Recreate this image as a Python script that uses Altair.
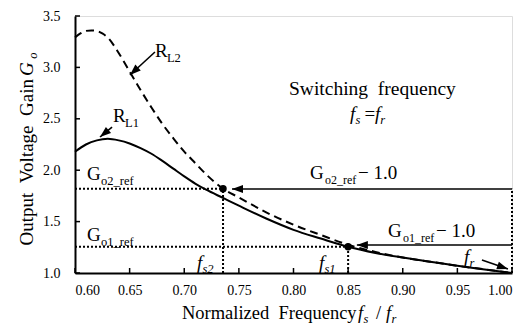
import math
import altair as alt
import pandas as pd

W, H = 437, 257
X_DOM = [0.60, 1.00]
Y_DOM = [1.0, 3.5]
FONT = "'Liberation Serif', 'Times New Roman', 'DejaVu Serif', serif"
NB = "\u00a0"

# ---- curves ----
rl2_x = [0.600, 0.605, 0.610, 0.615, 0.620, 0.625, 0.630, 0.640, 0.650, 0.660, 0.670, 0.680, 0.690,
         0.700, 0.710, 0.720, 0.7355, 0.750, 0.775, 0.800, 0.825, 0.850, 0.875, 0.900, 0.925,
         0.950, 0.975, 1.000]
rl2_y = [3.29, 3.33, 3.355, 3.36, 3.355, 3.33, 3.29, 3.14, 2.96, 2.78, 2.61, 2.45, 2.31,
         2.18, 2.07, 1.96, 1.82, 1.735, 1.59, 1.47, 1.37, 1.275, 1.205, 1.15, 1.11,
         1.07, 1.035, 1.00]
rl1_x = [0.600, 0.610, 0.620, 0.630, 0.640, 0.650, 0.660, 0.670, 0.680, 0.690, 0.700, 0.710,
         0.720, 0.7355, 0.750, 0.775, 0.800, 0.825, 0.850, 0.875, 0.900, 0.925, 0.950, 0.975, 1.000]
rl1_y = [2.18, 2.25, 2.29, 2.305, 2.29, 2.26, 2.215, 2.16, 2.09, 2.015, 1.94, 1.87,
         1.81, 1.73, 1.655, 1.53, 1.42, 1.335, 1.255, 1.195, 1.15, 1.11, 1.07, 1.035, 1.00]

# ---- reference points ----
dot_x = [0.7355, 0.850]
dot_y = [1.82, 1.255]

# dotted guide lines (x, x2, y, y2)
dot_lines = [
    (0.60, 0.7355, 1.82, 1.82),
    (0.60, 0.850, 1.255, 1.255),
    (0.7355, 0.7355, 1.0, 1.82),
    (0.850, 0.850, 1.0, 1.255),
    (1.00, 1.00, 1.0, 1.82),
]

# arrows (x_start, y_start, x_tip, y_tip)
arrows = [
    (0.6732, 3.150, 0.6503, 2.926),
    (0.6339, 2.420, 0.6229, 2.323),
    (1.000, 1.817, 0.7437, 1.817),
    (1.000, 1.272, 0.858, 1.272),
    (0.9725, 1.126, 0.9963, 1.039),
]

# upright labels (text, x, y, size)
up_labels = [
    ("R", 0.6732, 3.101, 19), ("L2", 0.6842, 3.053, 12.5),
    ("R", 0.6348, 2.469, 19), ("L1", 0.6458, 2.420, 12.5),
    ("Switching" + NB + NB + "frequency", 0.7959, 2.732, 19.5),
    ("=", 0.8650, 2.488, 19),
    ("G", 0.6110, 1.905, 19), ("o2_ref", 0.6238, 1.856, 12.5),
    ("G", 0.6110, 1.311, 19), ("o1_ref", 0.6238, 1.263, 12.5),
    ("G", 0.8151, 1.914, 19), ("o2_ref", 0.8288, 1.866, 12), ("−" + NB + "1.0", 0.8590, 1.914, 19),
    ("G", 0.8865, 1.350, 19), ("o1_ref", 0.9002, 1.302, 12), ("−" + NB + "1.0", 0.9304, 1.350, 19),
    ("Normalized" + NB + NB + "Frequency", 0.6979, 0.5525, 18.5),
    ("/", 0.8755, 0.5525, 18.5),
]
# italic labels
it_labels = [
    ("f", 0.8517, 2.488, 19), ("s", 0.8567, 2.449, 12.5),
    ("f", 0.8745, 2.488, 19), ("r", 0.8795, 2.449, 12.5),
    ("f", 0.7117, 1.039, 19), ("s2", 0.7167, 1.000, 12.5),
    ("f", 0.8233, 1.039, 19), ("s1", 0.8283, 1.000, 12.5),
    ("f", 0.9561, 1.097, 19), ("r", 0.9611, 1.058, 12.5),
    ("f", 0.8590, 0.5525, 18.5), ("s", 0.8640, 0.5136, 12.5),
    ("f", 0.8847, 0.5525, 18.5), ("r", 0.8897, 0.5136, 12.5),
]
# y axis title pieces (rotated)
ytitle_up = [("Output" + NB + NB + "Voltage" + NB + NB + "Gain", 0.5616, 2.887, 19)]
ytitle_it = [("G", 0.5616, 2.916, 19), ("o", 0.5652, 3.085, 12.5)]

x_ticks = [0.60, 0.65, 0.70, 0.75, 0.80, 0.85, 0.90, 0.95, 1.00]
y_ticks = [1.0, 1.5, 2.0, 2.5, 3.0, 3.5]

xs = alt.Scale(domain=X_DOM, nice=False, zero=False)
ys = alt.Scale(domain=Y_DOM, nice=False, zero=False)
px_per_x = W / (X_DOM[1] - X_DOM[0])
px_per_y = H / (Y_DOM[1] - Y_DOM[0])

X = alt.X("x:Q", scale=xs, axis=alt.Axis(values=x_ticks, format=".2f", title=None, ticks=False,
          grid=False, domainColor="black", domainWidth=2, labelFont=FONT, labelFontSize=14,
          labelColor="black", labelPadding=10))
Y = alt.Y("y:Q", scale=ys, axis=alt.Axis(values=y_ticks, format=".1f", title=None, ticks=False,
          grid=False, domainColor="black", domainWidth=2, labelFont=FONT, labelFontSize=14,
          labelColor="black", labelPadding=15))

df2 = pd.DataFrame({"x": rl2_x, "y": rl2_y})
df1 = pd.DataFrame({"x": rl1_x, "y": rl1_y})
base_axes = alt.Chart(df1).mark_line(stroke="black", strokeWidth=2, interpolate="monotone").encode(x=X, y=Y)
line2 = alt.Chart(df2).mark_line(stroke="black", strokeWidth=2, strokeDash=[8, 5],
                                 interpolate="monotone").encode(x="x:Q", y="y:Q")

dl = pd.DataFrame(dot_lines, columns=["x", "x2", "y", "y2"])
dotted = alt.Chart(dl).mark_rule(stroke="black", strokeWidth=2, strokeDash=[2, 2]).encode(
    x="x:Q", x2="x2:Q", y="y:Q", y2="y2:Q")

ar = pd.DataFrame(arrows, columns=["x", "y", "x2", "y2"])
ar["angle"] = [
    math.degrees(math.atan2((r.y2 - r.y) * px_per_y, -(r.x2 - r.x) * px_per_x)) % 360
    for r in ar.itertuples()
]
shafts = alt.Chart(ar).mark_rule(stroke="black", strokeWidth=1.6).encode(
    x="x:Q", x2="x2:Q", y="y:Q", y2="y2:Q")
heads = alt.Chart(ar).mark_point(shape="M0,0L2.2,-0.8L2.2,0.8Z", filled=True, fill="black",
                                 opacity=1, size=100).encode(
    x="x2:Q", y="y2:Q", angle=alt.Angle("angle:Q", scale=None))

dots = alt.Chart(pd.DataFrame({"x": dot_x, "y": dot_y})).mark_circle(
    size=55, color="black", opacity=1).encode(x="x:Q", y="y:Q")

xt = alt.Chart(pd.DataFrame({"x": x_ticks})).mark_rule(stroke="black", strokeWidth=1.5).encode(
    x="x:Q", y=alt.value(H), y2=alt.value(H - 5))
yt = alt.Chart(pd.DataFrame({"y": y_ticks})).mark_rule(stroke="black", strokeWidth=1.5).encode(
    y="y:Q", x=alt.value(0), x2=alt.value(5))


def texts(rows, italic=False, angle=0, align="left"):
    d = pd.DataFrame(rows, columns=["t", "x", "y", "s"])
    kw = dict(font=FONT, color="black", align=align, baseline="alphabetic")
    if italic:
        kw["fontStyle"] = "italic"
    if angle:
        kw["angle"] = angle
    return alt.Chart(d).mark_text(**kw).encode(
        x="x:Q", y="y:Q", text="t:N", size=alt.Size("s:Q", scale=None))


chart = alt.layer(
    base_axes, line2, dotted, shafts, heads, dots, xt, yt,
    texts(up_labels), texts(it_labels, italic=True),
    texts(ytitle_up, angle=270, align="right"), texts(ytitle_it, italic=True, angle=270),
).properties(
    width=W, height=H,
    autosize=alt.AutoSizeParams(type="none"),
    padding={"left": 67, "top": 8, "right": 11, "bottom": 52},
).configure_view(stroke=None).configure(background="white")

chart.save("out.html", embed_options={"renderer": "svg", "actions": False})
